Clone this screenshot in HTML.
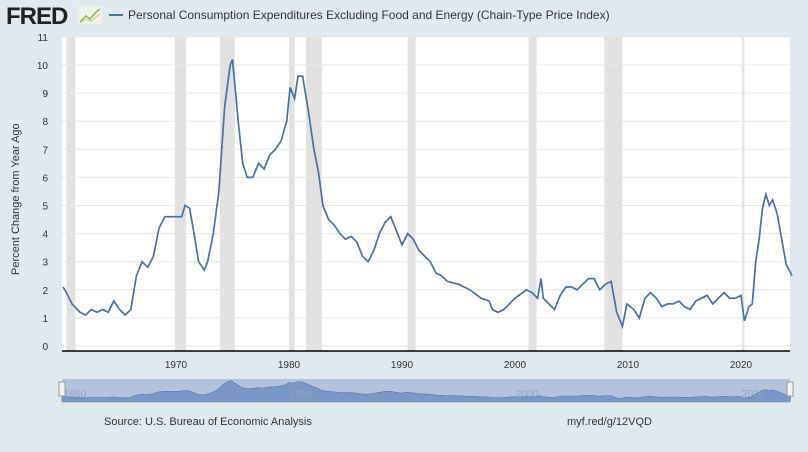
<!DOCTYPE html>
<html><head><meta charset="utf-8">
<style>
body{margin:0;width:808px;height:452px;background:#e1e9f0;font-family:"Liberation Sans",sans-serif;overflow:hidden;position:relative}
.t{position:absolute;font-size:11px;color:#333}
</style></head><body>
<div style="position:absolute;left:6px;top:3px;font-size:24px;font-weight:bold;color:#222;letter-spacing:-1px">FRED</div>
<svg style="position:absolute;left:78px;top:6px" width="24" height="18"><rect width="24" height="18" fill="#eef3e6"/><polyline points="2,16 8,10 12,13 18,6 22,3" fill="none" stroke="#8fb05a" stroke-width="1.5"/><polyline points="2,17 8,13 13,15 22,8" fill="none" stroke="#b8cf95" stroke-width="1"/></svg>
<div style="position:absolute;left:109px;top:14px;width:14px;height:2px;background:#4572a7"></div>
<div class="t" style="left:128px;top:8px;font-size:12px">Personal Consumption Expenditures Excluding Food and Energy (Chain-Type Price Index)</div>
<svg id="s" style="position:absolute;left:0;top:0" width="808" height="452"></svg>
<div class="t" style="left:4px;top:190px;width:0;height:0"><div style="transform:rotate(-90deg);transform-origin:0 0;white-space:nowrap;position:absolute;left:6px;top:85px;font-size:11px">Percent Change from Year Ago</div></div>
<div class="t" style="left:104px;top:416px">Source: U.S. Bureau of Economic Analysis</div>
<div class="t" style="left:567px;top:416px">myf.red/g/12VQD</div>
<script>
var d=[1960,2.1,1960.3,1.9,1960.8,1.5,1961.5,1.2,1962,1.1,1962.5,1.3,1963,1.2,1963.5,1.3,1964,1.2,1964.5,1.6,1965,1.3,1965.5,1.1,1966,1.3,1966.5,2.5,1967,3.0,1967.5,2.8,1968,3.2,1968.5,4.2,1969,4.6,1969.5,4.6,1970,4.6,1970.5,4.6,1970.8,5.0,1971.2,4.9,1971.6,4.0,1972,3.0,1972.5,2.7,1972.8,3.0,1973.3,4.0,1973.8,5.5,1974.3,8.5,1974.8,10.0,1975,10.2,1975.5,8.0,1975.9,6.5,1976.3,6.0,1976.8,6.0,1977.3,6.5,1977.8,6.3,1978.3,6.8,1978.8,7.0,1979.3,7.3,1979.8,8.0,1980.1,9.2,1980.5,8.8,1980.8,9.6,1981.2,9.6,1981.7,8.4,1982.2,7.0,1982.6,6.2,1983,5.0,1983.5,4.5,1984,4.3,1984.5,4.0,1985,3.8,1985.5,3.9,1986,3.7,1986.5,3.2,1987,3.0,1987.5,3.4,1988,4.0,1988.5,4.4,1989,4.6,1989.5,4.1,1990,3.6,1990.5,4.0,1991,3.8,1991.5,3.4,1992,3.2,1992.5,3.0,1993,2.6,1993.5,2.5,1994,2.3,1995,2.2,1996,2.0,1997,1.7,1997.7,1.6,1998,1.3,1998.5,1.2,1999,1.3,1999.5,1.5,2000,1.7,2000.7,1.9,2001,2.0,2001.5,1.9,2002,1.7,2002.3,2.4,2002.5,1.7,2003,1.5,2003.5,1.3,2004,1.8,2004.5,2.1,2005,2.1,2005.5,2.0,2006,2.2,2006.5,2.4,2007,2.4,2007.5,2.0,2008,2.2,2008.5,2.3,2009,1.2,2009.5,0.7,2009.9,1.5,2010.5,1.3,2011,1.0,2011.5,1.7,2012,1.9,2012.5,1.7,2013,1.4,2013.5,1.5,2014,1.5,2014.5,1.6,2015,1.4,2015.5,1.3,2016,1.6,2016.5,1.7,2017,1.8,2017.5,1.5,2018,1.7,2018.5,1.9,2019,1.7,2019.5,1.7,2020,1.8,2020.3,0.9,2020.7,1.4,2021,1.5,2021.3,3.0,2021.6,3.8,2021.9,4.9,2022.2,5.4,2022.5,5.0,2022.8,5.2,2023.2,4.7,2023.6,3.8,2024,2.9,2024.4,2.6,2024.5,2.5];
function X(y){return 63+(y-1960)*11.3}function Y(v){return 346-28.1*v}
var h='<rect x="62" y="37" width="728" height="314" fill="#fff"/>';
[[1960.3,1961.1],[1969.9,1970.9],[1973.9,1975.2],[1980.0,1980.5],[1981.5,1982.9],[1990.5,1991.2],[2001.2,2001.9],[2007.9,2009.5],[2020.1,2020.3]].forEach(function(r){h+='<rect x="'+X(r[0])+'" y="37" width="'+(X(r[1])-X(r[0]))+'" height="314" fill="#e1e1e1"/>'});
for(var v=0;v<=11;v++){h+='<line x1="62" x2="790" y1="'+Y(v)+'" y2="'+Y(v)+'" stroke="#e6e6e6"/><text x="48" y="'+(Y(v)+4)+'" font-size="10" fill="#333" text-anchor="end">'+v+'</text>'}
for(var yr=1970;yr<=2020;yr+=10)h+='<text x="'+X(yr)+'" y="368" font-size="10" fill="#333" text-anchor="middle">'+yr+'</text>';
var p='';for(var i=0;i<d.length;i+=2)p+=(i?'L':'M')+X(d[i]).toFixed(1)+','+Y(d[i+1]).toFixed(1);
h+='<path d="'+p+'" fill="none" stroke="#4572a7" stroke-width="1.7"/>';
h+='<line x1="62" x2="790" y1="351" y2="351" stroke="#000" stroke-width="1.5"/>';
// navigator
h+='<rect x="62" y="379" width="728" height="23" fill="#b3c3de"/>';
var q='M62,402';for(var i=0;i<d.length;i+=2)q+='L'+(62+(d[i]-1960)*11.3).toFixed(1)+','+(400-d[i+1]*1.9).toFixed(1);q+='L790,402Z';
h+='<path d="'+q+'" fill="#7a98c6" stroke="#5577aa" stroke-width="0.6"/>';
[[1960,"1960"],[1980,"1980"],[2000,"2000"],[2020,"2020"]].forEach(function(a){h+='<text x="'+(64+(a[0]-1960)*11.3)+'" y="397" font-size="10" fill="#8ea3c4">'+a[1]+'</text>'});
h+='<rect x="59" y="382" width="6" height="14" fill="#f2f2f2" stroke="#999"/><rect x="787" y="382" width="6" height="14" fill="#f2f2f2" stroke="#999"/>';
document.getElementById('s').innerHTML=h;
</script>
</body></html>
